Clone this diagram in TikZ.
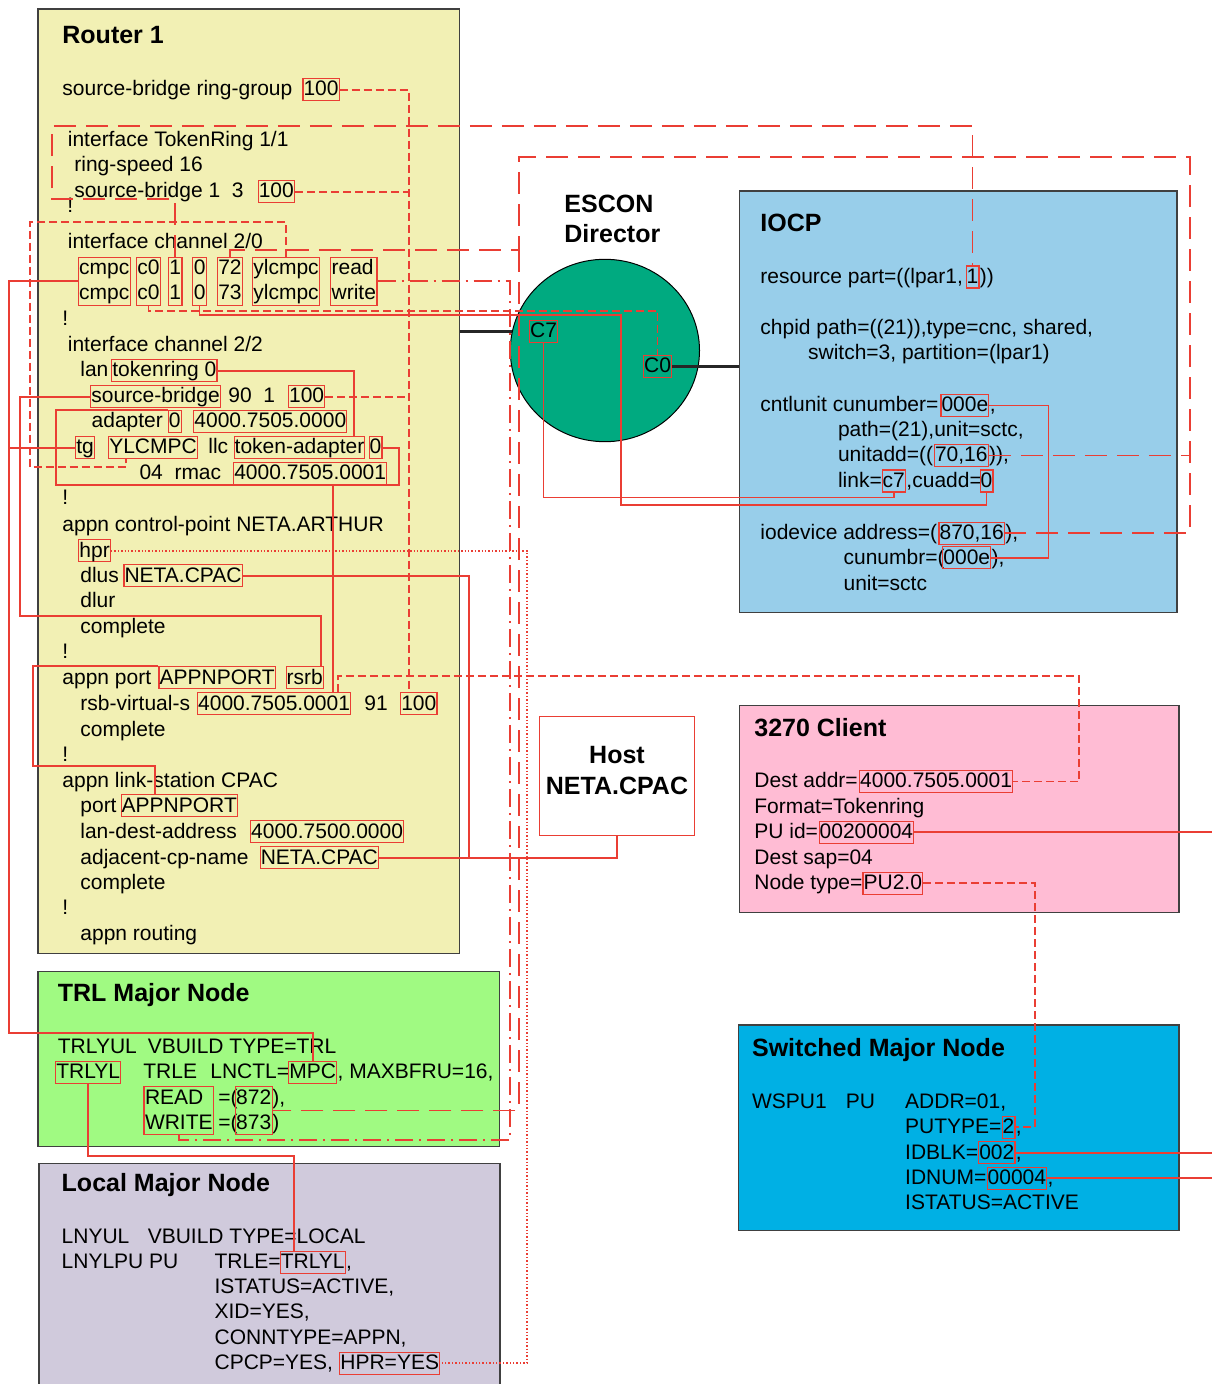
\documentclass[tikz,border=0pt]{standalone}
\usepackage{fontspec}
\setmainfont{Liberation Sans}
\usetikzlibrary{shapes.geometric,fit}
\definecolor{wire}{RGB}{234,62,52}
\definecolor{routerbg}{RGB}{242,240,180}
\definecolor{trlbg}{RGB}{160,250,130}
\definecolor{localbg}{RGB}{208,202,220}
\definecolor{iocpbg}{RGB}{152,206,234}
\definecolor{clientbg}{RGB}{255,188,212}
\definecolor{switchbg}{RGB}{0,176,228}
\definecolor{esconbg}{RGB}{0,170,128}
\newcommand{\bodyfont}{\fontsize{10.5}{12.5}\selectfont}
\newcommand{\headfont}{\fontsize{12.5}{15.5}\selectfont\bfseries}

\begin{document}
\begin{tikzpicture}[x=0.5pt,y=-0.5pt,
  txt/.style={inner sep=0pt,anchor=base west,font=\bodyfont},
  cell/.style={txt,text height=7.6pt,text depth=1.4pt},
  hl/.style={cell,draw=wire,line width=0.6pt,inner xsep=0.3pt,inner ysep=1pt},
  col/.style={draw=wire,line width=0.6pt,inner xsep=0.3pt,inner ysep=1pt},
  head/.style={inner sep=0pt,anchor=base west,font=\headfont},
  panel/.style={draw=black!75,line width=0.75pt,inner sep=0pt},
  wireline/.style={draw=wire,line width=0.8pt},
  sdash/.style={wireline,dash pattern=on 4pt off 2pt},
  ldash/.style={wireline,dash pattern=on 11pt off 5pt},
  ddot/.style={wireline,dash pattern=on 9pt off 3pt on 1pt off 3pt},
  dots/.style={wireline,dash pattern=on 0.7pt off 1pt},
  trunk/.style={draw=black!85,line width=1.5pt}]
\path[use as bounding box] (0,0) rectangle (1212,1384);
\clip (0,0) rectangle (1212,1384);

% panels
\node[panel,fill=routerbg,fit={(38,9) (459.7,953.3)}] (router) {};
\node[panel,fill=trlbg,fit={(38.2,971.7) (499.3,1146.7)}] (trl) {};
\node[panel,fill=localbg,fit={(38.9,1163.3) (500,1400)}] (local) {};
\node[panel,fill=iocpbg,fit={(739.6,191) (1177,612.3)}] (iocp) {};
\node[panel,fill=clientbg,fit={(739.6,705.7) (1178.9,912.3)}] (client) {};
\node[panel,fill=switchbg,fit={(738.6,1025) (1178.9,1230.7)}] (switched) {};
\node[draw=wire,line width=0.6pt,fill=white,inner sep=0pt,fit={(539.3,716.7) (694.8,835.7)}] (host) {};

% escon director
\node[hl] (c7port) at (529,338) {C7};
\draw[trunk] (router.east |- c7port) -- (c7port.west);
\node[ellipse,draw=black,line width=0.5pt,fill=esconbg,inner sep=0pt,
  minimum width=94.6pt,minimum height=91.2pt] (escon) at (604.9,350.5) {};
\node[hl] (c7port) at (529,338) {C7};
\node[hl] (c0port) at (643,373) {C0};
\draw[trunk] (c0port.east) -- (c0port.east -| iocp.west);

% titles
\node[head] (routerhead) at (62,43.3) {Router 1};
\node[head] (trlhead) at (57.5,1001.7) {TRL Major Node};
\node[head] (localhead) at (61.3,1191.7) {Local Major Node};
\node[head] (iocphead) at (760,231.7) {IOCP};
\node[head] (clienthead) at (754,736) {3270 Client};
\node[head] (switchhead) at (751.7,1056.7) {Switched Major Node};
\node[head] (esconhead) at (564,212.7) {ESCON};
\node[head] (dirhead) at (564,242.7) {Director};
\node[head,anchor=base] (hosta) at (617,763.3) {Host};
\node[head,anchor=base] (hostb) at (617,794) {NETA.CPAC};

% router 1
\foreach \x/\y/\t [count=\i] in {
  62/96/source-bridge ring-group,
  67.5/147/{interface TokenRing 1/1},
  74/172/ring-speed 16,
  74/198/source-bridge 1\ \ 3,
  67/213/!,
  67.5/249/{interface channel 2/0},
  62/326/!,
  67.5/352/{interface channel 2/2},
  80/377/lan,
  228/403/90\ \ 1,
  91.3/428/adapter,
  208/454/llc,
  139.1/480/04\ \ rmac,
  62/504/!,
  62/531/appn control-point NETA.ARTHUR,
  80/582/dlus,
  80/607/dlur,
  80/633/complete,
  62/658/!,
  62/684/appn port,
  80/710/rsb-virtual-s,
  364/710/91,
  80/736/complete,
  62/761/!,
  62/787/appn link-station CPAC,
  80/812/port,
  80/838/lan-dest-address,
  80/864/adjacent-cp-name,
  80/889/complete,
  62/914/!,
  80/940/appn routing}
  \node[txt] (r\i) at (\x,\y) {\t};

\foreach \n/\x/\a/\b in {cmpc/78.8/cmpc/cmpc, c0/137/c0/c0, one/169/1/1, zero/193.4/0/0,
  chan/217.9/72/73, ylc/253/ylcmpc/ylcmpc, rw/331.2/read/write}{
  \node[cell] (\n-1) at (\x,275) {\a};
  \node[cell] (\n-2) at (\x,300) {\b};
  \node[col,fit=(\n-1)(\n-2)] (\n) {};
}

\node[hl] (rg100) at (302.3,96) {100};
\node[hl] (tr100) at (257.6,198) {100};
\node[hl] (tr0) at (111.2,377) {tokenring 0};
\node[hl] (sbr) at (90.2,403) {source-bridge};
\node[hl] (sb100) at (287.9,403) {100};
\node[hl] (ad0) at (167.7,428) {0};
\node[hl] (admac) at (193.2,428) {4000.7505.0000};
\node[hl] (tg) at (75.1,454) {tg};
\node[hl] (ylcu) at (108.1,454) {YLCMPC};
\node[hl] (tokad) at (233.5,454) {token-adapter};
\node[hl] (tad0) at (368.5,454) {0};
\node[hl] (rmac) at (233.1,480) {4000.7505.0001};
\node[hl] (hpr) at (78.2,557) {hpr};
\node[hl] (dlus) at (123.3,582) {NETA.CPAC};
\node[hl] (apport) at (158.4,684) {APPNPORT};
\node[hl] (rsrb) at (285.5,684) {rsrb};
\node[hl] (rsbmac) at (197,710) {4000.7505.0001};
\node[hl] (rsb100) at (400.1,710) {100};
\node[hl] (pport) at (120.5,812) {APPNPORT};
\node[hl] (ldest) at (250,838) {4000.7500.0000};
\node[hl] (adjcp) at (259.6,864) {NETA.CPAC};

% trl and local major nodes
\foreach \x/\y/\t [count=\i] in {
  57.5/1053/TRLYUL,
  147.4/1053/VBUILD TYPE=TRL,
  143/1078.3/TRLE,
  210/1078.3/LNCTL=,
  218/1104/=(,
  272/1104/{),},
  218/1129.3/=(,
  272/1129.3/),
  61.3/1243.3/LNYUL,
  147.4/1243.3/VBUILD TYPE=LOCAL,
  61.3/1268.5/LNYLPU PU,
  214.2/1268.5/TRLE=,
  214.2/1293.7/{ISTATUS=ACTIVE,},
  214.2/1318.9/{XID=YES,},
  214.2/1344.1/{CONNTYPE=APPN,},
  214.2/1369.3/{CPCP=YES,}}
  \node[txt] (t\i) at (\x,\y) {\t};

\node[hl] (trlyl) at (55.1,1078.3) {TRLYL};
\node[hl] (mpc) at (288.2,1078.3) {MPC};
\node[txt] (mpctail) at (mpc.base east) {, MAXBFRU=16,};
\node[cell] (rd) at (144.6,1104) {READ};
\node[cell] (wr) at (144.6,1129.3) {WRITE};
\node[col,fit=(rd)(wr)] (trw) {};
\node[cell] (n872) at (235.8,1104) {872};
\node[cell] (n873) at (235.8,1129.3) {873};
\node[col,fit=(n872)(n873)] (t872) {};
\node[hl] (ltrlyl) at (279.6,1268.5) {TRLYL};
\node[txt] (ltail) at (ltrlyl.base east) {,};
\node[hl] (hpryes) at (339.2,1369.3) {HPR=YES};

% iocp, client, switched
\foreach \x/\y/\t [count=\i] in {
  760/283.3/{resource part=((lpar1,},
  760/335/{chpid path=((21)),type=cnc, shared,},
  807.7/360/{switch=3, partition=(lpar1)},
  760/411.7/cntlunit cunumber=,
  837.6/436.7/{path=(21),unit=sctc,},
  837.6/461.7/unitadd=((,
  837.6/487.3/link=,
  760/539.3/iodevice address=(,
  843.2/564/cunumbr=(,
  843.2/590/unit=sctc,
  754/787.7/Dest addr=,
  754/813.3/Format=Tokenring,
  754/838.3/PU id=,
  754/864/Dest sap=04,
  754/889.3/Node type=,
  751.7/1108.3/WSPU1,
  845.5/1108.3/PU,
  904.8/1108.3/{ADDR=01,},
  904.8/1133.3/PUTYPE=,
  904.8/1159/IDBLK=,
  904.8/1184.3/IDNUM=,
  904.8/1209.3/ISTATUS=ACTIVE}
  \node[txt] (q\i) at (\x,\y) {\t};

\node[hl] (part1) at (965.5,283.3) {1};
\node[txt] (part1tail) at (part1.base east) {))};
\node[hl] (cn000e) at (940.3,411.7) {000e};
\node[txt] (cntail) at (cn000e.base east) {,};
\node[hl] (ua7016) at (933.8,461.7) {70,16};
\node[txt] (uatail) at (ua7016.base east) {)),};
\node[hl] (lc7) at (881.5,487.3) {c7};
\node[txt] (lc7tail) at (lc7.base east) {,cuadd=};
\node[hl] (cu0) at (979.5,487.3) {0};
\node[hl] (io870) at (938.4,539.3) {870,16};
\node[txt] (iotail) at (io870.base east) {),};
\node[hl] (cun000e) at (942.2,564) {000e};
\node[txt] (cuntail) at (cun000e.base east) {),};
\node[hl] (daddr) at (859,787.7) {4000.7505.0001};
\node[hl] (puid) at (818.5,838.3) {00200004};
\node[hl] (pu20) at (862.4,889.3) {PU2.0};
\node[hl] (put2) at (1001.5,1133.3) {2};
\node[txt] (put2tail) at (put2.base east) {,};
\node[hl] (idblk) at (978.1,1159) {002};
\node[txt] (idblktail) at (idblk.base east) {,};
\node[hl] (idnum) at (986.5,1184.3) {00004};
\node[txt] (idnumtail) at (idnum.base east) {,};

% bus lines
\coordinate (rim) at (1212,0);
\coordinate (rgbus) at (409,0);
\coordinate (ylbus) at (126,0);
\coordinate (rsrbus) at (338,0);
\coordinate (rwbus) at (519,250);
\coordinate (iobus) at (1190,0);
\coordinate (hprbus) at (527,0);
\coordinate (tgbus) at (9,0);
\coordinate (trbus) at (354,0);
\coordinate (adbus) at (56,0);
\coordinate (sbbus) at (321,0);
\coordinate (macbus) at (333,0);
\coordinate (cpbus) at (469,0);
\coordinate (portbus) at (155,0);
\coordinate (lnbus) at (294,0);

% short dashes
\draw[sdash] (rg100.east) -| (rsb100.north -| rgbus);
\draw[sdash] (tr100.east) -- (tr100.east -| rgbus);
\draw[sdash] (sb100.east) -- (sb100.east -| rgbus);
\draw[sdash] (c0.south) -- ++(0,5) -| (c0port.north);
\draw[sdash] (ylc.north) -- ++(0,-35) -| (30,467) -| (ylcu.south -| ylbus);
\draw[sdash] (rsbmac.north -| rsrbus) |- (1079,676) |- (daddr.east);
\draw[sdash] (pu20.east) -- ++(112,0) |- (put2.east);
% long dashes
\draw[ldash] (one.north) |- (52,199) -- (52,126) -| (part1.north);
\draw[ldash] (chan.north) |- (rwbus) |- (1190,157) |- (io870.east);
\draw[ldash] (ua7016.east) -- (ua7016.east -| iobus);
\draw[ldash] (rwbus) |- (t872.east);
% dash dot
\draw[ddot] (rw.east) -| (510,1140) -| (trw.south);
% dotted
\draw[dots] (hpr.east) -| (hpryes.east -| hprbus) -- (hpryes.east);
% solid
\draw[wireline] (cmpc.west) -| (9,1033) -| (mpc.north);
\draw[wireline] (tg.west) -- (tg.west -| tgbus);
\draw[wireline] (tr0.east) -| (tokad.north -| trbus);
\draw[wireline] (tad0.east) -| (399,485) -| (ad0.north west -| adbus) -- (ad0.north west);
\draw[wireline] (sbr.west) -| (20,616) -| (rsrb.north -| sbbus);
\draw[wireline] (rmac.south -| macbus) -- (rsbmac.north -| macbus);
\draw[wireline] (dlus.east) -| (adjcp.east -| cpbus);
\draw[wireline] (adjcp.east) -| (host.south);
\draw[wireline] (apport.north west) -| (33,766) -| (pport.north -| portbus);
\draw[wireline] (trlyl.south) -- ++(0,72) -| (ltrlyl.north -| lnbus);
\draw[wireline] (c7port.south) -- ++(0,154) -| (lc7.south);
\draw[wireline] (zero.south) -- ++(0,9) -| (621,505) -| (cu0.south);
\draw[wireline] (cn000e.east) -- ++(59,0) |- (cun000e.east);
\draw[wireline] (puid.east) -- (puid.east -| rim);
\draw[wireline] (idblk.east) -- (idblk.east -| rim);
\draw[wireline] (idnum.east) -- (idnum.east -| rim);
\end{tikzpicture}
\end{document}
